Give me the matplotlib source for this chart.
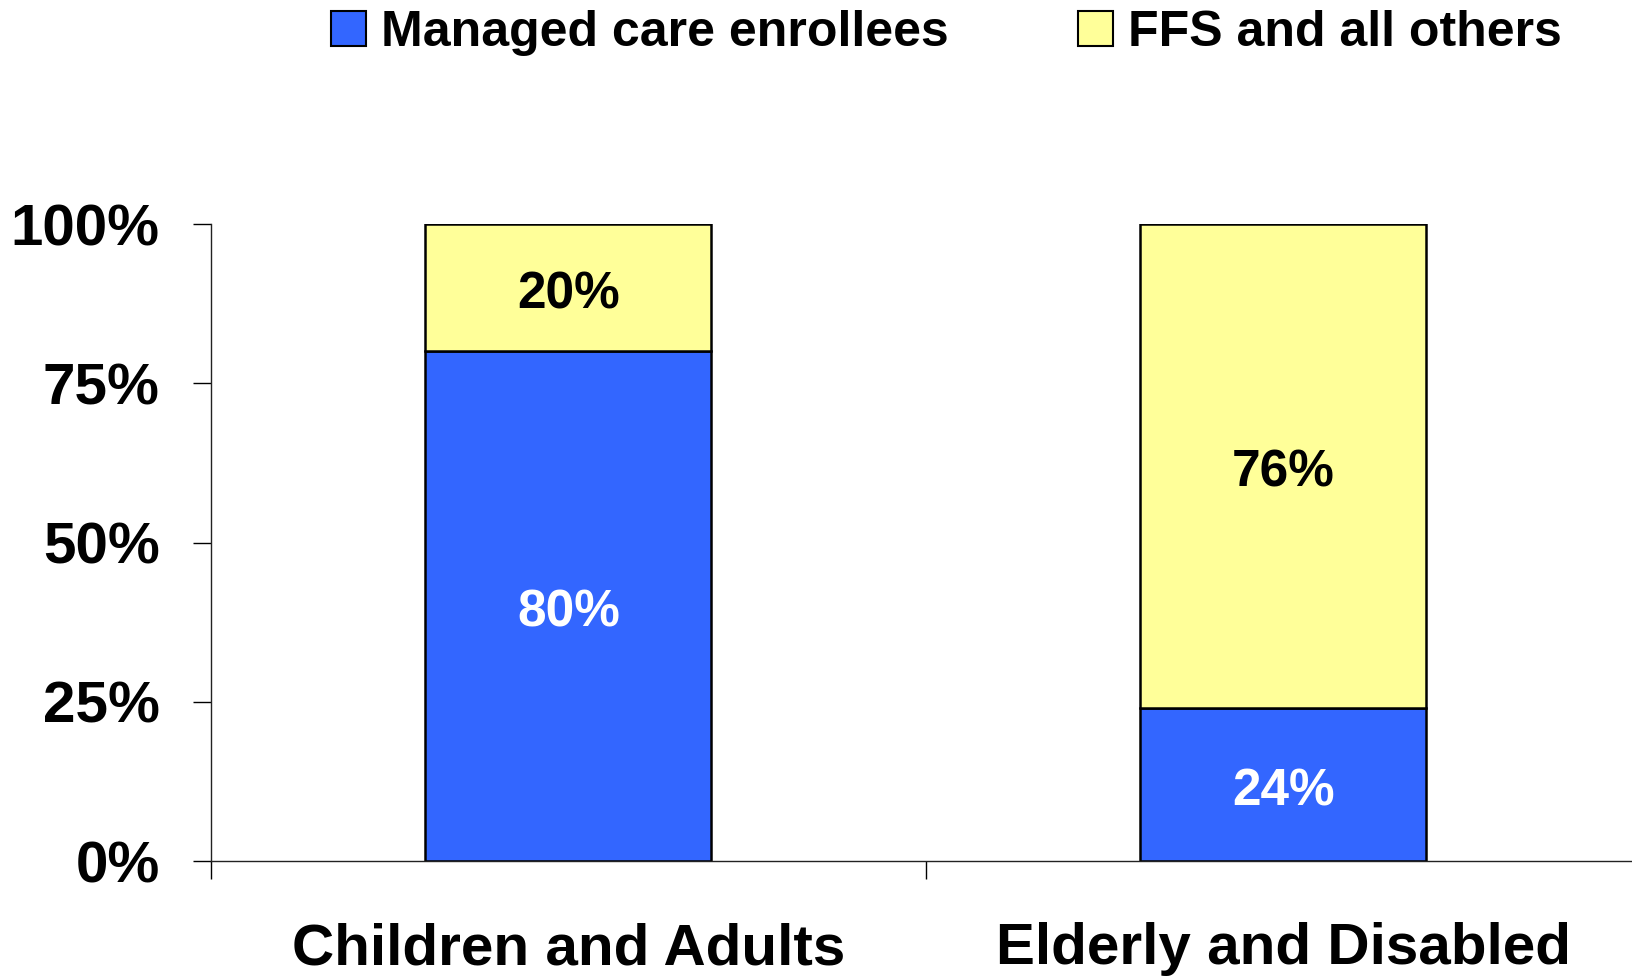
import matplotlib.pyplot as plt
from matplotlib.patches import Rectangle
import numpy as np

plt.rcParams['font.family'] = ['Liberation Sans', 'DejaVu Sans']
plt.rcParams['font.weight'] = 'bold'

# data (percent of enrollees)
groups = ['Children and Adults', 'Elderly and Disabled']
managed = [80, 24]
ffs = [20, 76]
series_names = ['Managed care enrollees', 'FFS and all others']
blue = '#3366FF'
yellow = '#FFFF99'

fig = plt.figure(figsize=(16.32, 9.77), dpi=100)
ax = fig.add_axes([0.1293, 0.1187, 0.876, 0.652])

x = np.arange(len(groups))
w = 0.4
ax.bar(x, managed, w, color=blue, edgecolor='black', linewidth=1.8)
ax.bar(x, ffs, w, bottom=managed, color=yellow, edgecolor='black', linewidth=1.8)

# labels inside the segments
for i in range(len(groups)):
    ax.annotate(f'{managed[i]}%', (x[i], managed[i] / 2), xytext=(0, -5),
                textcoords='offset points', ha='center', va='center',
                color='white', fontsize=37, fontweight='bold')
    ax.annotate(f'{ffs[i]}%', (x[i], managed[i] + ffs[i] / 2), xytext=(0, -5),
                textcoords='offset points', ha='center', va='center',
                color='black', fontsize=37, fontweight='bold')

ax.set_xlim(-0.5, 1.5)
ax.set_ylim(0, 100)
ax.set_yticks([0, 25, 50, 75, 100])
ax.set_yticklabels(['0%', '25%', '50%', '75%', '100%'])
ax.tick_params(axis='y', length=13, width=1, pad=24, labelsize=42)

ax.set_xticks(x)
ax.set_xticklabels(groups)
ax.set_xticks([-0.5, 0.5, 1.5], minor=True)
ax.tick_params(axis='x', which='major', length=0, pad=44, labelsize=42)
ax.tick_params(axis='x', which='minor', length=13, width=1)

for s in ['top', 'right']:
    ax.spines[s].set_visible(False)
for s in ['left', 'bottom']:
    ax.spines[s].set_linewidth(1)
    ax.spines[s].set_color('#222222')

handles = [Rectangle((0, 0), 1, 1, facecolor=blue, edgecolor='black', linewidth=1.5),
           Rectangle((0, 0), 1, 1, facecolor=yellow, edgecolor='black', linewidth=1.5)]
fig.legend(handles, series_names, loc='center', bbox_to_anchor=(0.58, 0.966), ncol=2,
           frameon=False, fontsize=36, handlelength=0.7, handleheight=0.7,
           handletextpad=0.3, columnspacing=2.6)

fig.savefig('out.png', dpi=100)
